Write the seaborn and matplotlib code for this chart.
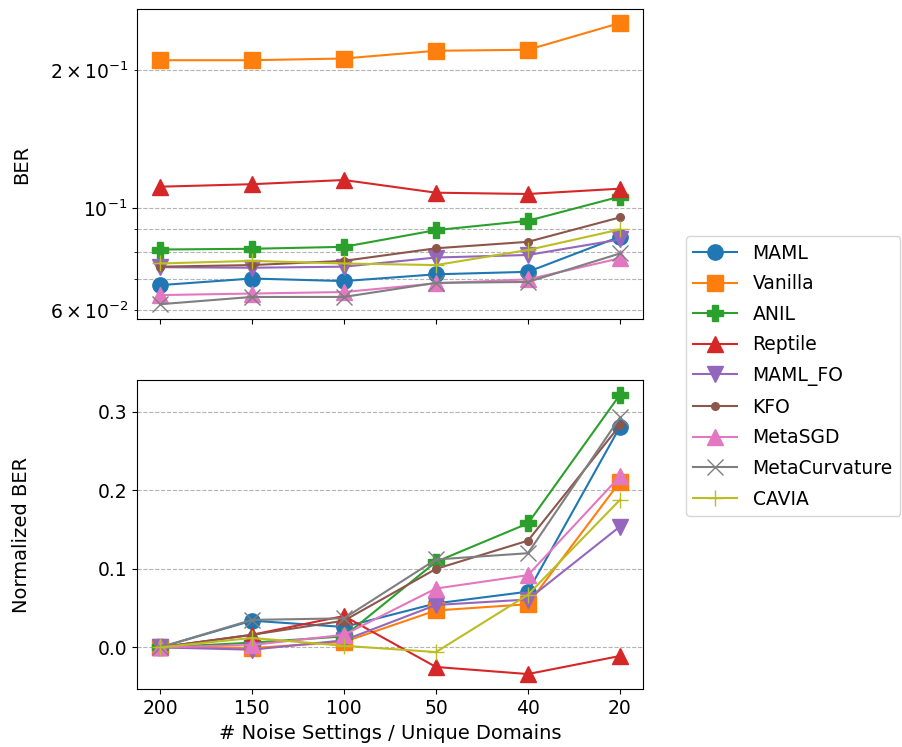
import matplotlib
matplotlib.use("Agg")
import matplotlib.pyplot as plt
from matplotlib.ticker import MultipleLocator, FormatStrFormatter
import seaborn as sns
import numpy as np
import pandas as pd

x_labels = ["200", "150", "100", "50", "40", "20"]
methods = ["MAML", "Vanilla", "ANIL", "Reptile", "MAML_FO", "KFO", "MetaSGD", "MetaCurvature", "CAVIA"]
markers = ["o", "s", "P", "^", "v", ".", "^", "x", "+"]

ber_maml = [0.0679, 0.0702, 0.0693, 0.0717, 0.0726, 0.0866]
ber_vanilla = [0.2100, 0.2100, 0.2118, 0.2202, 0.2213, 0.2531]
ber_anil = [0.0812, 0.0815, 0.0823, 0.0895, 0.0938, 0.1059]
ber_reptile = [0.1113, 0.1127, 0.1151, 0.1080, 0.1073, 0.1102]
ber_maml_fo = [0.0743, 0.0741, 0.0745, 0.0780, 0.0790, 0.0854]
ber_kfo = [0.0745, 0.0751, 0.0767, 0.0817, 0.0844, 0.0954]
ber_metasgd = [0.0646, 0.0651, 0.0656, 0.0685, 0.0699, 0.0777]
ber_metacurv = [0.0617, 0.0640, 0.0640, 0.0687, 0.0690, 0.0796]
ber_cavia = [0.0757, 0.0767, 0.0757, 0.0751, 0.0810, 0.0898]

nber_maml = [0.0, 0.034, 0.026, 0.056, 0.071, 0.281]
nber_vanilla = [0.0, -0.001, 0.007, 0.047, 0.055, 0.211]
nber_anil = [0.0, 0.006, 0.014, 0.109, 0.158, 0.322]
nber_reptile = [0.0, 0.016, 0.040, -0.025, -0.034, -0.011]
nber_maml_fo = [0.0, -0.003, 0.009, 0.054, 0.061, 0.154]
nber_kfo = [0.0, 0.016, 0.034, 0.100, 0.136, 0.283]
nber_metasgd = [0.0, 0.003, 0.016, 0.075, 0.092, 0.218]
nber_metacurv = [0.0, 0.035, 0.037, 0.112, 0.120, 0.293]
nber_cavia = [0.0, 0.012, 0.002, -0.006, 0.067, 0.188]

ber = [ber_maml, ber_vanilla, ber_anil, ber_reptile, ber_maml_fo, ber_kfo,
       ber_metasgd, ber_metacurv, ber_cavia]
nber = [nber_maml, nber_vanilla, nber_anil, nber_reptile, nber_maml_fo, nber_kfo,
        nber_metasgd, nber_metacurv, nber_cavia]

colors = sns.color_palette("tab10", 9)
pos = np.arange(len(x_labels))

FS = 14
TFS = 13.5
LFS = 13.5

fig = plt.figure(figsize=(9.03, 7.47), dpi=100)
ax1 = fig.add_axes([0.1517, 0.573, 0.5603, 0.415])
ax2 = fig.add_axes([0.1517, 0.0772, 0.5603, 0.4138], sharex=ax1)

for i, m in enumerate(methods):
    ms = 11
    sns.lineplot(x=pos, y=ber[i], ax=ax1, color=colors[i], marker=markers[i],
                 markersize=ms, markeredgewidth=1.0, markeredgecolor=colors[i],
                 linewidth=1.5, label=m)
    sns.lineplot(x=pos, y=nber[i], ax=ax2, color=colors[i], marker=markers[i],
                 markersize=ms, markeredgewidth=1.0, markeredgecolor=colors[i],
                 linewidth=1.5, legend=False)

ax1.set_yscale("log")
ax1.set_ylim(0.0573, 0.2716)
ax2.set_ylim(-0.0535, 0.3405)
ax2.yaxis.set_major_locator(MultipleLocator(0.1))
ax2.yaxis.set_major_formatter(FormatStrFormatter("%.1f"))
ax1.set_xlim(-0.25, 5.25)
ax2.set_xticks(pos)
ax2.set_xticklabels(x_labels)
plt.setp(ax1.get_xticklabels(), visible=False)

for ax in (ax1, ax2):
    ax.grid(axis="y", which="both", linestyle="--", color="0.7", linewidth=0.8)
    ax.tick_params(which="both", labelsize=TFS)
    ax.set_axisbelow(True)

ax1.set_ylabel("BER", fontsize=FS)
ax2.set_ylabel("Normalized BER", fontsize=FS)
ax2.set_xlabel("# Noise Settings / Unique Domains", fontsize=FS)
ax1.set_xlabel("")
ax1.yaxis.set_label_coords(-0.209, 0.5)
ax2.yaxis.set_label_coords(-0.209, 0.5)

handles, labels = ax1.get_legend_handles_labels()
ax1.get_legend().remove()
fig.legend(handles, labels, loc="center left", bbox_to_anchor=(0.7493, 0.4966),
           fontsize=LFS, frameon=True, handlelength=2.3, handletextpad=0.85,
           labelspacing=0.62)

fig.savefig("out.png", dpi=100)
